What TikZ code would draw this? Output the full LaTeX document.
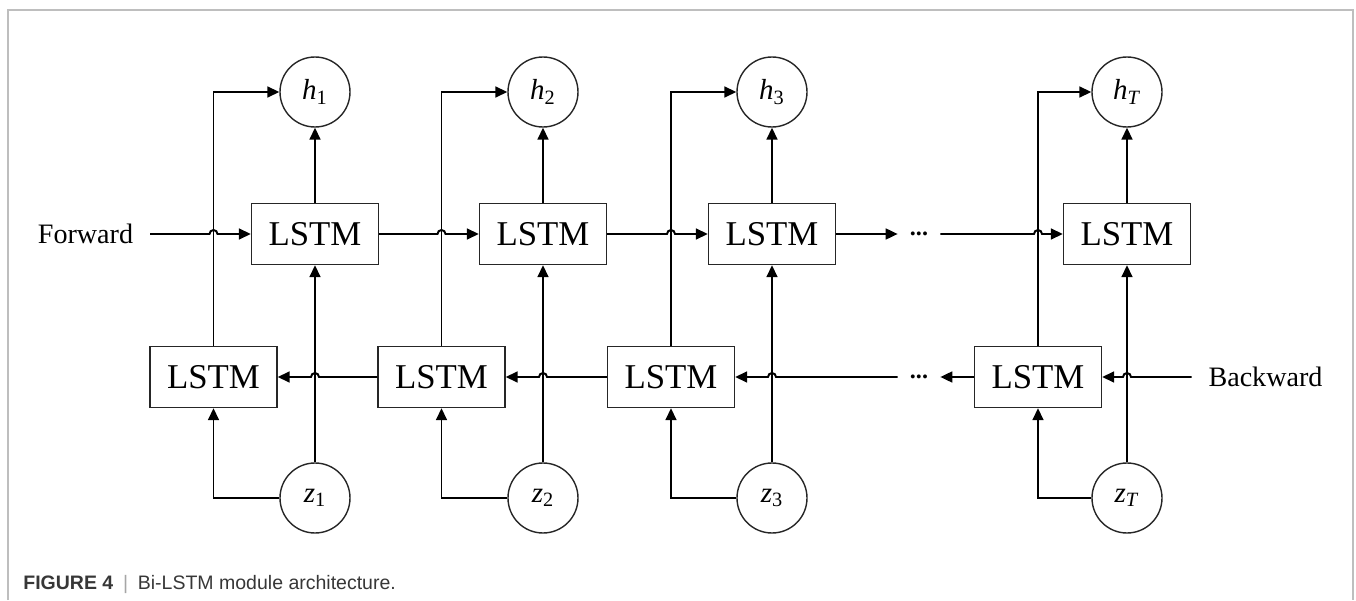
\documentclass[tikz,border=0pt]{standalone}
\usepackage{fontspec}
\setmainfont{Liberation Serif}
\newfontfamily\capfont{Liberation Sans}
\usepackage{tikz}
\usetikzlibrary{arrows.meta,calc}
\definecolor{framegray}{RGB}{190,190,190}
\definecolor{capgray}{RGB}{55,55,55}

\begin{document}
\begin{tikzpicture}[
      cell/.style={rectangle, draw=black!85, line width=0.8pt, fill=white,
                   minimum width=2.54cm, minimum height=1.22cm, inner sep=0pt,
                   font=\fontsize{19.8}{22}\selectfont},
      unit/.style={circle, draw=black!85, line width=0.8pt, minimum size=1.4cm,
                   inner sep=0pt, font=\fontsize{16.5}{18}\selectfont},
      tag/.style={inner sep=0pt, outer xsep=0.34cm, font=\fontsize{16}{18}\selectfont},
      ellip/.style={inner sep=0pt, minimum width=0.84cm,
                    font=\fontsize{13.7}{15}\selectfont\bfseries},
      arrow/.style={-{Triangle[length=6.8pt,width=6.2pt]}, line width=1.1pt}
    ]
      \useasboundingbox (0,0) rectangle (27.12,12);
      \draw[framegray, line width=0.8pt] (0.16,0) -- (0.16,11.8) -- (27.06,11.8) -- (27.06,0);

      %% outputs
      \node[unit] (h1) at (6.30,10.16) {\textit{h}\textsubscript{1}};
      \node[unit] (h2) at (10.86,10.16) {\textit{h}\textsubscript{2}};
      \node[unit] (h3) at (15.44,10.16) {\textit{h}\textsubscript{3}};
      \node[unit] (hT) at (22.54,10.16) {\textit{h}\textsubscript{\textit{T}}};
      %% forward cells
      \node[cell] (fw1) at (6.30,7.32) {LSTM};
      \node[cell] (fw2) at (10.86,7.32) {LSTM};
      \node[cell] (fw3) at (15.44,7.32) {LSTM};
      \node[cell] (fwT) at (22.54,7.32) {LSTM};
      %% backward cells
      \node[cell] (bw1) at (4.27,4.46) {LSTM};
      \node[cell] (bw2) at (8.83,4.46) {LSTM};
      \node[cell] (bw3) at (13.42,4.46) {LSTM};
      \node[cell] (bwT) at (20.76,4.46) {LSTM};
      %% inputs
      \node[unit] (z1) at (6.30,2.04) {\textit{z}\textsubscript{1}};
      \node[unit] (z2) at (10.86,2.04) {\textit{z}\textsubscript{2}};
      \node[unit] (z3) at (15.44,2.04) {\textit{z}\textsubscript{3}};
      \node[unit] (zT) at (22.54,2.04) {\textit{z}\textsubscript{\textit{T}}};
      %% direction labels and gaps
      \node[tag] (fwtag) at (1.71,7.32) {Forward};
      \node[tag] (bwtag) at (25.31,4.46) {Backward};
      \node[ellip] (dotsf) at (18.38,7.32) {...};
      \node[ellip] (dotsb) at (18.38,4.46) {...};

      %% forward chain (hops over the backward outputs)
      \draw[arrow] (fwtag.east) -- ($(bw1.north |- fwtag.east)+(-0.08,0)$)
          arc[start angle=180, end angle=0, radius=0.08] -- (fw1.west);
      \draw[arrow] (fw1.east) -- ($(bw2.north |- fw1.east)+(-0.08,0)$)
          arc[start angle=180, end angle=0, radius=0.08] -- (fw2.west);
      \draw[arrow] (fw2.east) -- ($(bw3.north |- fw2.east)+(-0.08,0)$)
          arc[start angle=180, end angle=0, radius=0.08] -- (fw3.west);
      \draw[arrow] (fw3.east) -- (dotsf.west);
      \draw[arrow] (dotsf.east) -- ($(bwT.north |- dotsf.east)+(-0.08,0)$)
          arc[start angle=180, end angle=0, radius=0.08] -- (fwT.west);
      %% backward chain (hops over the input lines)
      \draw[arrow] (bwtag.west) -- ($(zT.north |- bwtag.west)+(0.08,0)$)
          arc[start angle=0, end angle=180, radius=0.08] -- (bwT.east);
      \draw[arrow] (bwT.west) -- (dotsb.east);
      \draw[arrow] (dotsb.west) -- ($(z3.north |- dotsb.west)+(0.08,0)$)
          arc[start angle=0, end angle=180, radius=0.08] -- (bw3.east);
      \draw[arrow] (bw3.west) -- ($(z2.north |- bw3.west)+(0.08,0)$)
          arc[start angle=0, end angle=180, radius=0.08] -- (bw2.east);
      \draw[arrow] (bw2.west) -- ($(z1.north |- bw2.west)+(0.08,0)$)
          arc[start angle=0, end angle=180, radius=0.08] -- (bw1.east);

      %% inputs to cells, cells to outputs
      \draw[arrow] (z1.north) -- (fw1.south);
      \draw[arrow] (z2.north) -- (fw2.south);
      \draw[arrow] (z3.north) -- (fw3.south);
      \draw[arrow] (zT.north) -- (fwT.south);
      \draw[arrow] (z1.west) -| (bw1.south);
      \draw[arrow] (z2.west) -| (bw2.south);
      \draw[arrow] (z3.west) -| (bw3.south);
      \draw[arrow] (zT.west) -| (bwT.south);
      \draw[arrow] (fw1.north) -- (h1.south);
      \draw[arrow] (fw2.north) -- (h2.south);
      \draw[arrow] (fw3.north) -- (h3.south);
      \draw[arrow] (fwT.north) -- (hT.south);
      \draw[arrow] (bw1.north) |- (h1.west);
      \draw[arrow] (bw2.north) |- (h2.west);
      \draw[arrow] (bw3.north) |- (h3.west);
      \draw[arrow] (bwT.north) |- (hT.west);

      %% caption
      \node[anchor=base west, inner sep=0pt, text=capgray,
            font=\capfont\fontsize{11.1}{12}\selectfont] (cap) at (0.46,0.214)
          {\textbf{FIGURE 4}\enspace{\color{black!35}|}\enspace Bi-LSTM module architecture.};
    \end{tikzpicture}
\end{document}
